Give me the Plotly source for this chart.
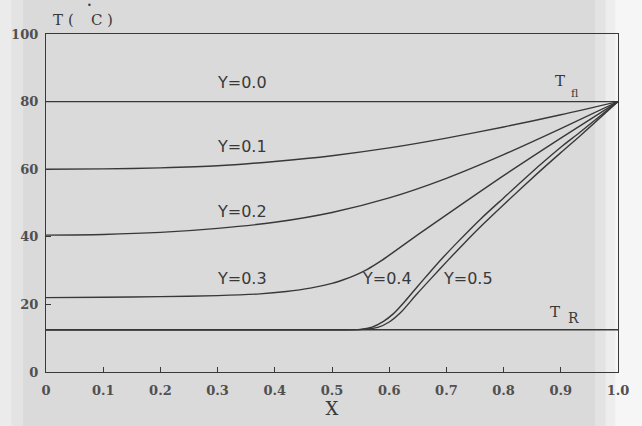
import plotly.graph_objects as go

# Temperature profiles T(X) at several depths Y
x_y00 = [0.0, 1.0]
t_y00 = [80.0, 80.0]

x_y01 = [0.0, 0.1, 0.2, 0.3, 0.4, 0.5, 0.6, 0.7, 0.8, 0.9, 1.0]
t_y01 = [60.0, 60.1, 60.4, 61.0, 62.3, 64.0, 66.3, 69.2, 72.5, 76.1, 80.0]

x_y02 = [0.0, 0.1, 0.2, 0.3, 0.4, 0.5, 0.6, 0.7, 0.8, 0.9, 1.0]
t_y02 = [40.5, 40.7, 41.3, 42.5, 44.3, 47.2, 51.5, 57.3, 64.3, 72.0, 80.0]

x_y03 = [0.0, 0.1, 0.2, 0.3, 0.374, 0.42, 0.462, 0.5, 0.52, 0.54, 0.561,
         0.585, 0.607, 0.635, 0.666, 0.7, 0.8, 0.9, 1.0]
t_y03 = [22.0, 22.1, 22.3, 22.6, 23.1, 23.8, 24.8, 26.2, 27.3, 28.6, 30.3,
         32.8, 35.4, 38.8, 42.5, 46.5, 58.1, 69.2, 80.0]

x_y04 = [0.0, 0.5, 0.549, 0.57, 0.59, 0.607, 0.628, 0.648, 0.67, 0.692,
         0.72, 0.76, 0.8, 0.864, 0.9, 0.934, 1.0]
t_y04 = [12.5, 12.5, 12.6, 13.3, 15.0, 17.2, 21.0, 25.0, 29.3, 33.5,
         38.5, 45.3, 51.5, 61.3, 66.5, 71.0, 80.0]

x_y05 = [0.0, 0.5, 0.555, 0.58, 0.6, 0.62, 0.648, 0.675, 0.703, 0.73,
         0.764, 0.8, 0.864, 0.9, 0.934, 1.0]
t_y05 = [12.5, 12.5, 12.6, 13.2, 14.8, 17.6, 23.0, 28.0, 33.1, 37.9,
         43.7, 49.5, 59.5, 64.9, 69.9, 80.0]

t_r = 12.5
x_ticks = [0, 0.1, 0.2, 0.3, 0.4, 0.5, 0.6, 0.7, 0.8, 0.9, 1.0]
x_tick_text = ["0", "0.1", "0.2", "0.3", "0.4", "0.5", "0.6", "0.7", "0.8", "0.9", "1.0"]
y_ticks = [0, 20, 40, 60, 80, 100]

curve_labels = [
    ("Y=0.0", 0.342, 85.8),
    ("Y=0.1", 0.342, 66.7),
    ("Y=0.2", 0.342, 47.4),
    ("Y=0.3", 0.342, 27.7),
    ("Y=0.4", 0.597, 27.6),
    ("Y=0.5", 0.737, 27.6),
]

ink = "#383838"
line_style = dict(color=ink, width=1.4)

fig = go.Figure()

# soft light bands at the page edges
for x0, x1, op in [(-0.09, -0.06, 0.45), (-0.06, -0.04, 0.25),
                   (0.96, 0.978, 0.25), (0.978, 0.995, 0.5),
                   (0.995, 1.05, 0.75)]:
    fig.add_shape(type="rect", xref="paper", yref="paper", x0=x0, x1=x1,
                  y0=-0.2, y1=1.15, line_width=0, fillcolor="white",
                  opacity=op, layer="below")

fig.add_trace(go.Scatter(x=[0, 1], y=[t_r, t_r], mode="lines", line=line_style))
for xs, ts in [(x_y00, t_y00), (x_y01, t_y01), (x_y02, t_y02),
               (x_y03, t_y03), (x_y04, t_y04), (x_y05, t_y05)]:
    fig.add_trace(go.Scatter(x=xs, y=ts, mode="lines", line_shape="spline",
                             line=dict(color=ink, width=1.4, smoothing=0.8)))

label_font = dict(family="DejaVu Sans", size=16, color=ink)
for text, lx, ly in curve_labels:
    fig.add_annotation(x=lx, y=ly, text=text, showarrow=False, font=label_font)

serif = "DejaVu Serif"
fig.add_annotation(x=0.899, y=86.0, text="T", showarrow=False,
                   font=dict(family=serif, size=15, color=ink))
fig.add_annotation(x=0.924, y=82.3, text="fl", showarrow=False,
                   font=dict(family=serif, size=11, color=ink))
fig.add_annotation(x=0.890, y=17.8, text="T", showarrow=False,
                   font=dict(family=serif, size=15, color=ink))
fig.add_annotation(x=0.923, y=15.9, text="R", showarrow=False,
                   font=dict(family=serif, size=14, color=ink))

# y-axis title "T (°C)" above the plot
for ch, px in [("T", 51), ("(", 66), ("C", 89), (")", 105)]:
    fig.add_annotation(xref="paper", yref="paper", x=(px - 46) / 572, y=1.0,
                       yanchor="middle", yshift=14, text=ch, showarrow=False,
                       font=dict(family=serif, size=15, color=ink))
fig.add_annotation(xref="paper", yref="paper", x=(85 - 46) / 572, y=1.0,
                   yanchor="middle", yshift=29, text="•", showarrow=False,
                   font=dict(family="DejaVu Sans", size=8, color=ink))

tick_font = dict(family=serif, size=13, color="#505050", weight="bold")
fig.update_xaxes(range=[0, 1], tickvals=x_ticks, ticktext=x_tick_text,
                 ticks="inside", ticklen=5, tickcolor=ink, tickwidth=1,
                 showline=True, linecolor=ink, linewidth=1.3, mirror=True,
                 showgrid=False, zeroline=False, tickfont=tick_font,
                 ticklabelstandoff=6,
                 title=dict(text="X", font=dict(family=serif, size=18, color=ink),
                            standoff=4))
fig.update_yaxes(range=[0, 100], tickvals=y_ticks,
                 ticks="inside", ticklen=5, tickcolor=ink, tickwidth=1,
                 showline=True, linecolor=ink, linewidth=1.3, mirror=True,
                 showgrid=False, zeroline=False, tickfont=tick_font,
                 ticklabelstandoff=4)

fig.update_layout(width=642, height=426, showlegend=False,
                  margin=dict(l=46, r=24, t=34, b=54),
                  paper_bgcolor="#dadada", plot_bgcolor="#dadada")

fig.write_html("out.html")
